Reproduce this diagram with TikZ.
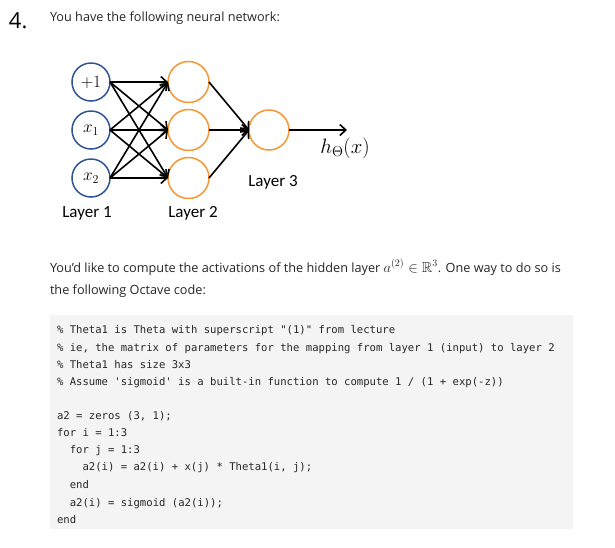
\documentclass[tikz,border=0pt]{standalone}
\usepackage{amsmath,amssymb}
\usepackage{fontspec}
\setmainfont{Open Sans}
\setmonofont{DejaVu Sans Mono}
\newfontfamily\labelfont{Carlito}
\usetikzlibrary{arrows.meta,positioning}
\definecolor{inblue}{RGB}{47,85,151}
\definecolor{hidorange}{RGB}{246,150,52}
\definecolor{codebg}{RGB}{244,244,244}

\begin{document}
\begin{tikzpicture}[x=1pt, y=-1pt, node distance=10pt,
    every node/.style={inner sep=0pt, outer sep=0pt},
    neuron/.style={circle, line width=1.5pt, minimum size=#1},
    inunit/.style={neuron=38pt, draw=inblue, font=\fontsize{18}{20}\selectfont},
    hidunit/.style={neuron=41pt, draw=hidorange},
    conn/.style={line width=1.6pt, -{Straight Barb[length=6pt,width=11pt]}},
    layerlbl/.style={font=\labelfont\fontsize{17}{20}\selectfont},
    txt/.style={anchor=base west, font=\fontsize{12.7}{15}\selectfont, text=black!85},
    codeln/.style={anchor=base west, font=\ttfamily\fontsize{10.6}{12}\selectfont, text=black!85}]
    \useasboundingbox (0,0) rectangle (615,547);
    % header
    \node (num) [anchor=base west, font=\fontsize{22}{24}\selectfont] at (9,28) {4.};
    \node (intro) [txt] at (50,21) {You have the following neural network:};
    % network
    \node (bias) [inunit] at (91,82) {$+1$};
    \node (xa) [inunit, below=of bias] {$x_1$};
    \node (xb) [inunit, below=of xa] {$x_2$};
    \node (ha) [hidunit, right=58pt of bias] {};
    \node (hb) [hidunit, right=58pt of xa] {};
    \node (hc) [hidunit, right=58pt of xb] {};
    \node (out) [neuron=40pt, draw=hidorange, right=40pt of hb] {};
    \coordinate (tip) at (347,130);
    \foreach \i in {bias,xa,xb}
        \foreach \j in {ha,hb,hc}
            \draw[conn] (\i.east) -- (\j.west);
    \foreach \j in {ha,hb,hc}
        \draw[conn] (\j.east) -- (out.west);
    \draw[conn] (out.east) -- (tip);
    \node (hyp) [font=\fontsize{21}{24}\selectfont] at (345,148) {$h_\Theta(x)$};
    \node (l1) [layerlbl] at (87,213) {Layer 1};
    \node (l2) [layerlbl] at (193,213) {Layer 2};
    \node (l3) [layerlbl] at (273,182) {Layer 3};
    % question text
    \node (q1) [txt] at (50,272) {You'd like to compute the activations of the hidden layer {\fontsize{14.5}{15}\selectfont$a^{(2)}\in\mathbb{R}^3$}. One way to do so is};
    \node (q2) [txt] at (50,294) {the following Octave code:};
    % code block
    \fill[codebg] (50,315) rectangle (573,529);
    \node (c1) [codeln] at (57,333) {\% Theta1 is Theta with superscript "(1)" from lecture};
    \node (c2) [codeln] at (57,351) {\% ie, the matrix of parameters for the mapping from layer 1 (input) to layer 2};
    \node (c3) [codeln] at (57,368) {\% Theta1 has size 3x3};
    \node (c4) [codeln] at (57,385) {\% Assume 'sigmoid' is a built-in function to compute 1 / (1 + exp(-z))};
    \node (c5) [codeln] at (57,419) {a2 = zeros (3, 1);};
    \node (c6) [codeln] at (57,436) {for i = 1:3};
    \node (c7) [codeln] at (69.8,453) {for j = 1:3};
    \node (c8) [codeln] at (82.5,470) {a2(i) = a2(i) + x(j) * Theta1(i, j);};
    \node (c9) [codeln] at (69.8,488) {end};
    \node (c10) [codeln] at (69.8,506) {a2(i) = sigmoid (a2(i));};
    \node (c11) [codeln] at (57,523) {end};
\end{tikzpicture}
\end{document}
